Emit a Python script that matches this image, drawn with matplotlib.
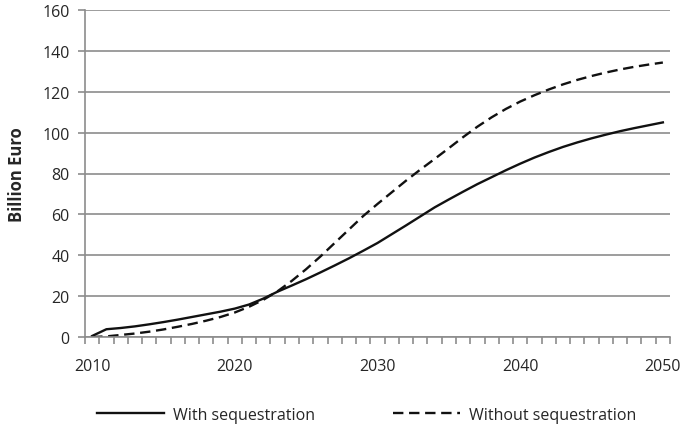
import matplotlib.pyplot as plt
from matplotlib.ticker import MultipleLocator, FixedLocator

years = list(range(2010, 2051))

with_seq = [0.5, 3.8, 4.4, 5.2, 6.2, 7.3, 8.5, 9.8, 11.1, 12.4, 13.9,
            15.9, 18.8, 22.2, 25.2, 28.3, 31.6, 35.0, 38.5, 42.2, 46.0,
            50.3, 54.6, 59.0, 63.4, 67.3, 71.1, 74.8, 78.2, 81.6, 84.8,
            87.8, 90.5, 93.0, 95.2, 97.2, 99.0, 100.7, 102.2, 103.6, 105.0]

without_seq = [0.0, 0.3, 1.0, 1.7, 2.6, 3.7, 5.0, 6.4, 8.0, 9.8, 12.0,
               14.8, 18.2, 22.4, 27.5, 33.2, 39.4, 46.0, 52.6, 59.2, 65.1,
               70.8, 76.5, 81.9, 87.1, 92.4, 97.8, 102.9, 107.5, 111.6, 115.2,
               118.3, 121.1, 123.6, 125.8, 127.7, 129.4, 130.9, 132.2, 133.3, 134.3]

series_names = ["With sequestration", "Without sequestration"]
y_label = "Billion Euro"

GRID = "#8c8c8c"
TEXT = "#262626"

plt.rcParams['font.family'] = ['Open Sans', 'DejaVu Sans']

fig = plt.figure(figsize=(6.81, 4.27), dpi=100)
ax = fig.add_axes([85 / 681, 1 - 338 / 427, 585 / 681, 327 / 427])

ax.plot(years, with_seq, color="#111111", linewidth=1.7, label=series_names[0])
ax.plot(years, without_seq, color="#111111", linewidth=1.7, dashes=(4.4, 2.4),
        label=series_names[1])

ax.set_xlim(2009.5, 2050.5)
ax.set_ylim(0, 160)
ax.yaxis.set_major_locator(MultipleLocator(20))
ax.xaxis.set_major_locator(FixedLocator([2010, 2020, 2030, 2040, 2050]))
ax.xaxis.set_minor_locator(FixedLocator([2009.5 + k for k in range(42)]))

ax.grid(axis="y", color=GRID, linewidth=1.2)
ax.set_axisbelow(True)
for side in ["top", "right"]:
    ax.spines[side].set_visible(False)
for side in ["left", "bottom"]:
    ax.spines[side].set_color(GRID)
    ax.spines[side].set_linewidth(1.2)

ax.tick_params(axis="y", colors=GRID, labelcolor=TEXT, length=5, width=1.2,
               labelsize=11.5, pad=6)
ax.tick_params(axis="x", which="major", length=0, labelcolor=TEXT,
               labelsize=11.5, pad=15)
ax.tick_params(axis="x", which="minor", colors=GRID, length=5, width=1.2)

ax.set_ylabel(y_label, fontsize=12, fontweight="bold", color=TEXT, labelpad=12)

fig.legend(loc="center", bbox_to_anchor=(0.538, 0.026), ncol=2, frameon=False,
           fontsize=11.5, handlelength=4.2, columnspacing=4.9, handletextpad=0.55,
           labelcolor=TEXT)

fig.savefig("out.png", dpi=100)
